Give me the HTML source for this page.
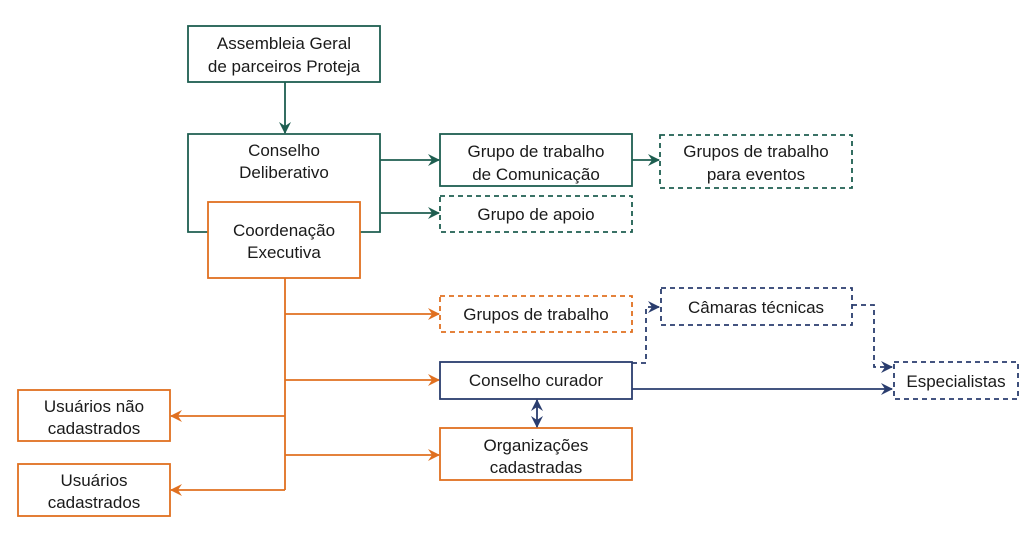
<!DOCTYPE html>
<html><head><style>body{margin:0;background:#fff}svg{display:block}</style></head><body>
<svg width="1024" height="543" viewBox="0 0 1024 543" xmlns="http://www.w3.org/2000/svg" font-family="Liberation Sans, sans-serif" font-size="17" fill="#1a1a1a" text-anchor="middle">
<defs>
<marker id="g" markerWidth="12" markerHeight="12" refX="11" refY="6" orient="auto" markerUnits="userSpaceOnUse"><path d="M0,0 L12,6 L0,12 L4,6z" fill="#1e5e50"/></marker>
<marker id="o" markerWidth="12" markerHeight="12" refX="11" refY="6" orient="auto-start-reverse" markerUnits="userSpaceOnUse"><path d="M0,0 L12,6 L0,12 L4,6z" fill="#e07020"/></marker>
<marker id="n" markerWidth="12" markerHeight="12" refX="11" refY="6" orient="auto-start-reverse" markerUnits="userSpaceOnUse"><path d="M0,0 L12,6 L0,12 L4,6z" fill="#2a3d6e"/></marker>
</defs>
<g fill="none" stroke-width="1.8">
<rect x="188" y="26" width="192" height="56" stroke="#1e5e50"/>
<line x1="285" y1="82" x2="285" y2="133" stroke="#1e5e50" marker-end="url(#g)"/>
<polyline points="208,232 188,232 188,134 380,134 380,232 360,232" stroke="#1e5e50"/>
<rect x="208" y="202" width="152" height="76" stroke="#e07020"/>
<rect x="440" y="134" width="192" height="52" stroke="#1e5e50"/>
<rect x="660" y="135" width="192" height="53" stroke="#1e5e50" stroke-dasharray="5,4"/>
<rect x="440" y="196" width="192" height="36" stroke="#1e5e50" stroke-dasharray="5,4"/>
<line x1="380" y1="160" x2="439" y2="160" stroke="#1e5e50" marker-end="url(#g)"/>
<line x1="632" y1="160" x2="659" y2="160" stroke="#1e5e50" marker-end="url(#g)"/>
<line x1="380" y1="213" x2="439" y2="213" stroke="#1e5e50" marker-end="url(#g)"/>
<line x1="285" y1="278" x2="285" y2="490" stroke="#e07020"/>
<line x1="285" y1="314" x2="439" y2="314" stroke="#e07020" marker-end="url(#o)"/>
<line x1="285" y1="380" x2="439" y2="380" stroke="#e07020" marker-end="url(#o)"/>
<line x1="285" y1="455" x2="439" y2="455" stroke="#e07020" marker-end="url(#o)"/>
<line x1="285" y1="416" x2="171" y2="416" stroke="#e07020" marker-end="url(#o)"/>
<line x1="285" y1="490" x2="171" y2="490" stroke="#e07020" marker-end="url(#o)"/>
<rect x="440" y="296" width="192" height="36" stroke="#e07020" stroke-dasharray="5,4"/>
<rect x="440" y="362" width="192" height="37" stroke="#2a3d6e"/>
<rect x="440" y="428" width="192" height="52" stroke="#e07020"/>
<rect x="18" y="390" width="152" height="51" stroke="#e07020"/>
<rect x="18" y="464" width="152" height="52" stroke="#e07020"/>
<line x1="537" y1="400" x2="537" y2="427" stroke="#2a3d6e" marker-start="url(#n)" marker-end="url(#n)"/>
<rect x="661" y="288" width="191" height="37" stroke="#2a3d6e" stroke-dasharray="5,4"/>
<rect x="894" y="362" width="124" height="37" stroke="#2a3d6e" stroke-dasharray="5,4"/>
<polyline points="632,363 646,363 646,307 659,307" stroke="#2a3d6e" stroke-dasharray="5,4" marker-end="url(#n)"/>
<polyline points="852,305 874,305 874,367 892,367" stroke="#2a3d6e" stroke-dasharray="5,4" marker-end="url(#n)"/>
<line x1="632" y1="389" x2="892" y2="389" stroke="#2a3d6e" marker-end="url(#n)"/>
</g>
<text x="284" y="49">Assembleia Geral</text><text x="284" y="72">de parceiros Proteja</text>
<text x="284" y="156">Conselho</text><text x="284" y="178">Deliberativo</text>
<text x="284" y="236">Coordenação</text><text x="284" y="258">Executiva</text>
<text x="536" y="157">Grupo de trabalho</text><text x="536" y="180">de Comunicação</text>
<text x="756" y="157">Grupos de trabalho</text><text x="756" y="180">para eventos</text>
<text x="536" y="220">Grupo de apoio</text>
<text x="536" y="320">Grupos de trabalho</text>
<text x="756" y="313">Câmaras técnicas</text>
<text x="536" y="386">Conselho curador</text>
<text x="956" y="387">Especialistas</text>
<text x="536" y="451">Organizações</text><text x="536" y="473">cadastradas</text>
<text x="94" y="412">Usuários não</text><text x="94" y="434">cadastrados</text>
<text x="94" y="486">Usuários</text><text x="94" y="508">cadastrados</text>
</svg>
</body></html>
